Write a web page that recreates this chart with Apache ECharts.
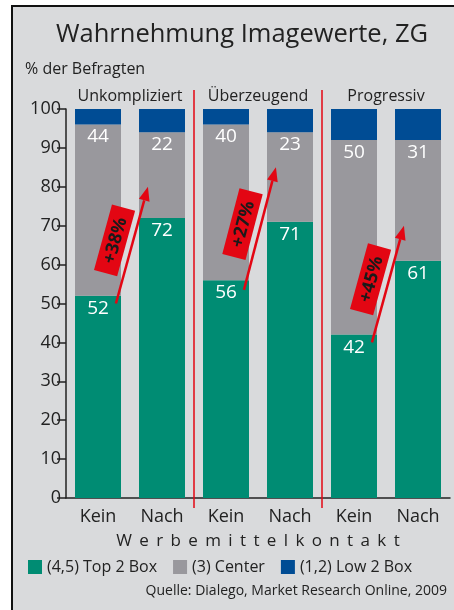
<!DOCTYPE html>
<html>
<head>
<meta charset="utf-8">
<script src="https://cdn.jsdelivr.net/npm/echarts@6/dist/echarts.min.js"></script>
<style>
html, body { margin:0; padding:0; background:#fff; }
#frame { position:absolute; left:11px; top:5px; width:443px; height:605px; background:#d9dadc; border-left:2px solid #111; border-top:2px solid #111; }
#chart { position:absolute; left:0; top:0; width:454px; height:610px; }
</style>
</head>
<body>
<div id="frame"></div>
<div id="chart"></div>
<script>
// Daten
const categories = ["Kein", "Nach", "Kein", "Nach", "Kein", "Nach"];
const groups = ["Unkompliziert", "Überzeugend", "Progressiv"];
const top2Box = [52, 72, 56, 71, 42, 61];
const center = [44, 22, 40, 23, 50, 31];
const low2Box = [4, 6, 4, 6, 8, 8];
const seriesNames = ["(4,5) Top 2 Box", "(3) Center", "(1,2) Low 2 Box"];

// Pfeile: von Kein zu Nach
const arrowCats = [[0, 1], [2, 3], [4, 5]];
const arrowFrom = [50, 53.5, 40];
const arrowTo = [80, 85, 70];
const arrowText = ["+38%", "+27%", "+45%"];

// Trennlinien vor diesen Kategorien
const dividerCats = [2, 4];

const FONT = '"Open Sans", "DejaVu Sans", sans-serif';
const RED = "#e30613";
const INK = "#222";

const chart = echarts.init(document.getElementById("chart"), null, { renderer: "canvas" });

function renderArrow(params, api) {
  const bw = api.size([1, 0])[0];
  const a = api.coord([api.value(0), api.value(1)]);
  const b = api.coord([api.value(2), api.value(3)]);
  const x0 = a[0] + bw * 0.28, y0 = a[1];
  const x1 = b[0] - bw * 0.22, y1 = b[1];
  const dx = x1 - x0, dy = y1 - y0, len = Math.hypot(dx, dy);
  const ux = dx / len, uy = dy / len;
  const head = 14, hw = 5.5;
  const bx = x1 - ux * head, by = y1 - uy * head;
  const px = -uy, py = ux;
  const mx = (x0 + x1) / 2 + uy * 18, my = (y0 + y1) / 2 - ux * 18;
  return {
    type: "group",
    children: [
      { type: "line", shape: { x1: x0, y1: y0, x2: bx, y2: by }, style: { stroke: RED, lineWidth: 2.5 } },
      { type: "polygon", shape: { points: [[x1, y1], [bx + px * hw, by + py * hw], [bx - px * hw, by - py * hw]] }, style: { fill: RED } },
      {
        type: "group", x: mx, y: my, rotation: Math.atan2(-dy, dx),
        children: [
          { type: "rect", shape: { x: -34, y: -12, width: 68, height: 24 }, style: { fill: RED } },
          { type: "text", style: { text: arrowText[params.dataIndex], x: 0, y: 1, align: "center", verticalAlign: "middle",
              fill: "#1a1a1a", fontSize: 18, fontWeight: "bold", fontFamily: FONT } }
        ]
      }
    ]
  };
}

function renderDivider(params, api) {
  const bw = api.size([1, 0])[0];
  const top = api.coord([api.value(0), 100]);
  const bottom = api.coord([api.value(0), 0]);
  const x = top[0] - bw / 2;
  return { type: "line", shape: { x1: x, y1: top[1] - 19, x2: x, y2: bottom[1] + 10 },
    style: { stroke: RED, lineWidth: 1.5 } };
}

const valueLabel = { show: true, position: "insideTop", distance: 3, color: "#fff", fontSize: 19, fontFamily: FONT };

chart.setOption({
  textStyle: { fontFamily: FONT, color: INK },
  title: [
    { text: "Wahrnehmung Imagewerte, ZG", left: 242, top: 22, textAlign: "center", padding: 0,
      textStyle: { fontSize: 25.5, fontWeight: "normal", color: INK, fontFamily: FONT } },
    { text: "% der Befragten", left: 25, top: 61, padding: 0,
      textStyle: { fontSize: 16, fontWeight: "normal", color: INK, fontFamily: FONT } },
    { text: "Quelle: Dialego, Market Research Online, 2009", right: 7, top: 584, padding: 0,
      textStyle: { fontSize: 14, fontWeight: "normal", color: INK, fontFamily: FONT } }
  ],
  legend: {
    data: seriesNames, left: 23, top: 554, icon: "rect", itemWidth: 14, itemHeight: 14, itemGap: 16,
    textStyle: { fontSize: 16, color: INK, fontFamily: FONT }
  },
  grid: { left: 66, right: 4, top: 109, bottom: 112 },
  xAxis: [
    {
      type: "category", data: categories, position: "bottom",
      axisLine: { lineStyle: { color: INK, width: 1.5 } },
      axisTick: { interval: (i) => i % 2 === 1, length: 8, lineStyle: { color: INK, width: 1.5 } },
      axisLabel: { fontSize: 18, color: INK, margin: 10, interval: 0, fontFamily: FONT },
      name: "Werbemittelkontakt".split("").join("\u2004\u200A"),
      nameLocation: "middle", nameGap: 35,
      nameTextStyle: { fontSize: 17, color: INK, fontFamily: FONT }
    },
    {
      type: "category", data: groups, position: "top",
      axisLine: { show: false },
      axisTick: { show: false },
      axisLabel: { fontSize: 16, color: INK, margin: 5, interval: 0, fontFamily: FONT },
      splitLine: { show: false }
    }
  ],
  yAxis: {
    type: "value", min: 0, max: 100, interval: 10,
    axisLine: { show: true, lineStyle: { color: INK, width: 1.5 } },
    axisTick: { show: true, length: 9, lineStyle: { color: INK, width: 1.5 } },
    axisLabel: { fontSize: 18, color: INK, margin: 5, fontFamily: FONT },
    splitLine: { show: false }
  },
  series: [
    { name: seriesNames[0], type: "bar", stack: "s", barWidth: 46, data: top2Box,
      itemStyle: { color: "#008c73" }, label: valueLabel },
    { name: seriesNames[1], type: "bar", stack: "s", barWidth: 46, data: center,
      itemStyle: { color: "#99989d" }, label: valueLabel },
    { name: seriesNames[2], type: "bar", stack: "s", barWidth: 46, data: low2Box,
      itemStyle: { color: "#004c94" } },
    { type: "custom", renderItem: renderDivider, clip: false, z: 1, silent: true,
      data: dividerCats.map((c) => [c]) },
    { type: "custom", renderItem: renderArrow, clip: false, z: 10, silent: true,
      data: arrowCats.map((c, i) => [c[0], arrowFrom[i], c[1], arrowTo[i]]) }
  ]
});
</script>
</body>
</html>
